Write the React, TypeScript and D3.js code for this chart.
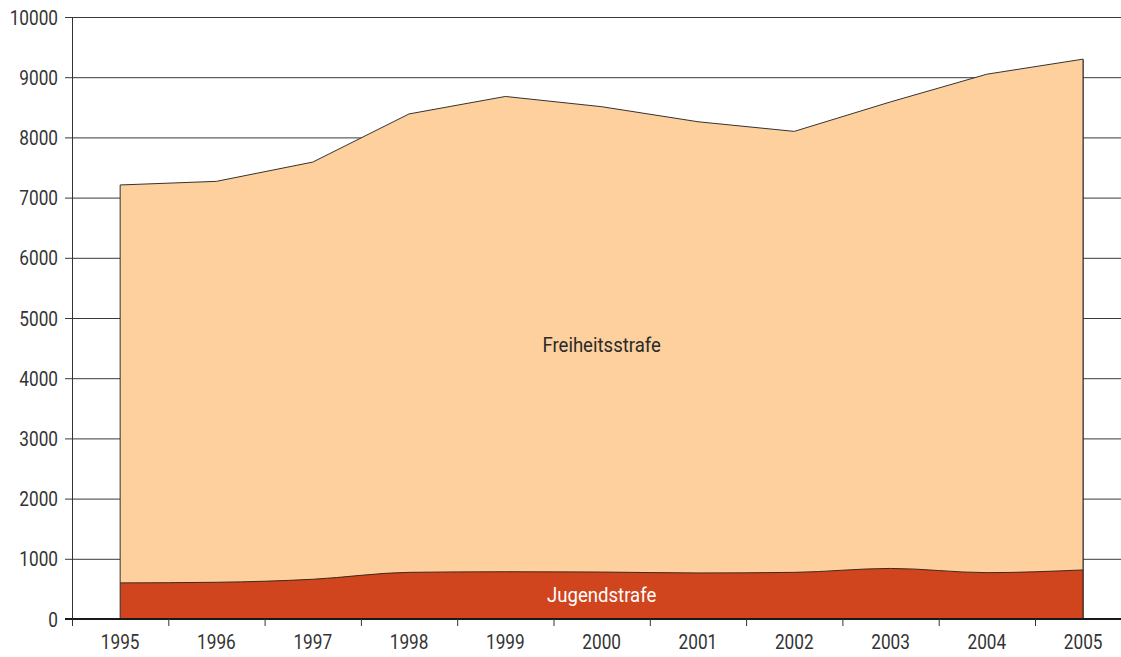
import React from "react";
import * as d3 from "d3";

const years = ["1995","1996","1997","1998","1999","2000","2001","2002","2003","2004","2005"];
const jugendstrafe = [600, 610, 660, 775, 785, 780, 765, 775, 840, 770, 815];
const freiheitsstrafe = [6610, 6660, 6930, 7615, 7895, 7730, 7495, 7325, 7750, 8280, 8485];
const yTicks = [0, 1000, 2000, 3000, 4000, 5000, 6000, 7000, 8000, 9000, 10000];
const seriesKeys = ["Jugendstrafe", "Freiheitsstrafe"];

const W = 1121, H = 657;
const FONT = "Roboto, 'Liberation Sans', sans-serif";

function CText(props: { x: number; y: number; anchor: string; fill: string; dy?: string; sx?: number; children: any }) {
  const sx = props.sx ?? 0.82;
  return (
    <text
      transform={`translate(${props.x},${props.y}) scale(${sx},1)`}
      dy={props.dy || "0"}
      textAnchor={props.anchor as any}
      fontFamily={FONT}
      fontSize={21}
      fill={props.fill}
    >
      {props.children}
    </text>
  );
}

export default function App() {
  const rows = years.map((y, i) => ({ year: y, Jugendstrafe: jugendstrafe[i], Freiheitsstrafe: freiheitsstrafe[i] }));
  const stacked = d3.stack<any>().keys(seriesKeys)(rows);

  const x = d3.scaleBand().domain(years).range([72, 72 + 11 * 96.3]).padding(0);
  const cx = (yr: string) => (x(yr) as number) + x.bandwidth() / 2;
  const y = d3.scaleLinear().domain([0, 10000]).range([619, 17]);

  const jug = stacked[0];
  const fre = stacked[1];

  const areaLin = d3.area<any>().x((d) => cx(d.data.year)).y0(() => y(0)).y1((d) => y(d[1])).curve(d3.curveLinear);
  const areaSmooth = d3.area<any>().x((d) => cx(d.data.year)).y0(() => y(0)).y1((d) => y(d[1])).curve(d3.curveMonotoneX);
  const lineLin = d3.line<any>().x((d) => cx(d.data.year)).y((d) => y(d[1])).curve(d3.curveLinear);
  const lineSmooth = d3.line<any>().x((d) => cx(d.data.year)).y((d) => y(d[1])).curve(d3.curveMonotoneX);

  const xFirst = cx(years[0]);
  const xLast = cx(years[years.length - 1]);
  const lastTotal = fre[fre.length - 1][1];

  const midIdx = years.indexOf("2000");
  const labelX = cx(years[midIdx]);

  return (
    <svg width={W} height={H} style={{ position: "absolute", left: 0, top: 0, background: "#fff" }}>
      {yTicks.filter((t) => t > 0).map((t) => (
        <line key={t} x1={65} x2={W} y1={y(t) + 0.5} y2={y(t) + 0.5} stroke="#3a3a3a" strokeWidth={1} />
      ))}
      <path d={areaLin(fre) || ""} fill="#FDD09D" />
      <path d={lineLin(fre) || ""} fill="none" stroke="#333" strokeWidth={1} />
      <path d={areaSmooth(jug) || ""} fill="#D0441E" />
      <path d={lineSmooth(jug) || ""} fill="none" stroke="#3a2a20" strokeWidth={1} />
      <line x1={xFirst} x2={xFirst} y1={y(0)} y2={y(fre[0][1])} stroke="#333" strokeWidth={1} />
      <line x1={xLast} x2={xLast} y1={y(0)} y2={y(lastTotal)} stroke="#222" strokeWidth={1.2} />
      <line x1={72.5} x2={72.5} y1={y(10000)} y2={626} stroke="#333" strokeWidth={1} />
      {yTicks.map((t) => (
        <CText key={t} x={58} y={y(t)} dy="0.36em" anchor="end" fill="#333">{t}</CText>
      ))}
      <line x1={65} x2={W} y1={y(0)} y2={y(0)} stroke="#1a1a1a" strokeWidth={2.2} />
      {years.map((yr) => (
        <line key={"t" + yr} x1={(x(yr) as number) + 0.5} x2={(x(yr) as number) + 0.5} y1={y(0)} y2={626} stroke="#333" strokeWidth={1} />
      ))}
      {years.map((yr) => (
        <CText key={yr} x={cx(yr)} y={649} anchor="middle" fill="#333">{yr}</CText>
      ))}
      <CText x={labelX} y={y(4560)} dy="0.36em" anchor="middle" sx={0.885} fill="#2a2a2a">Freiheitsstrafe</CText>
      <CText x={labelX} y={y(jug[midIdx][1] / 2) - 1.5} dy="0.36em" anchor="middle" sx={0.885} fill="#ffffff">Jugendstrafe</CText>
    </svg>
  );
}
